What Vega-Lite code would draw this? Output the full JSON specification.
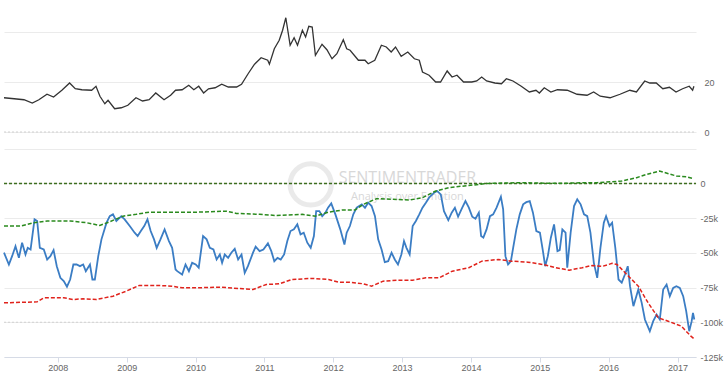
{
  "$schema": "https://vega.github.io/schema/vega-lite/v6.json",
  "background": "white",
  "padding": {"left": 0, "top": 0, "right": 3, "bottom": 0},
  "spacing": 0,
  "bounds": "flush",
  "config": {
    "view": {"stroke": null},
    "axis": {"labelFont": "Liberation Sans", "labelFontSize": 9, "labelColor": "#666666", "gridColor": "#ebebeb", "domain": false, "ticks": false, "title": null},
    "axisX": {"grid": false}
  },
  "datasets": {
    "silver": [
      {"date": "2007-03-22", "v": 13.7}, {"date": "2007-05-15", "v": 13.3}, {"date": "2007-07-06", "v": 12.9}, {"date": "2007-08-19", "v": 11.6},
      {"date": "2007-09-23", "v": 12.9}, {"date": "2007-11-05", "v": 15.1}, {"date": "2007-12-10", "v": 14.0}, {"date": "2008-01-23", "v": 16.7},
      {"date": "2008-03-04", "v": 19.6}, {"date": "2008-04-03", "v": 17.3}, {"date": "2008-05-08", "v": 16.9}, {"date": "2008-06-29", "v": 16.7},
      {"date": "2008-07-22", "v": 18.3}, {"date": "2008-08-12", "v": 14.3}, {"date": "2008-09-07", "v": 11.3}, {"date": "2008-09-24", "v": 12.7},
      {"date": "2008-10-29", "v": 9.3}, {"date": "2008-12-03", "v": 9.7}, {"date": "2009-01-07", "v": 10.7}, {"date": "2009-02-19", "v": 13.7},
      {"date": "2009-03-26", "v": 12.4}, {"date": "2009-04-30", "v": 12.9}, {"date": "2009-06-04", "v": 15.6}, {"date": "2009-07-18", "v": 12.9},
      {"date": "2009-08-22", "v": 14.7}, {"date": "2009-09-17", "v": 16.7}, {"date": "2009-10-22", "v": 16.9}, {"date": "2009-11-26", "v": 18.7},
      {"date": "2009-12-23", "v": 16.9}, {"date": "2010-01-18", "v": 18.3}, {"date": "2010-02-13", "v": 15.6}, {"date": "2010-03-11", "v": 17.3},
      {"date": "2010-04-15", "v": 17.7}, {"date": "2010-05-20", "v": 19.1}, {"date": "2010-06-24", "v": 18.0}, {"date": "2010-08-07", "v": 18.0},
      {"date": "2010-09-02", "v": 19.1}, {"date": "2010-10-07", "v": 23.3}, {"date": "2010-11-10", "v": 27.1}, {"date": "2010-12-15", "v": 29.7},
      {"date": "2011-01-19", "v": 28.7}, {"date": "2011-01-28", "v": 27.1}, {"date": "2011-02-23", "v": 33.3}, {"date": "2011-03-21", "v": 36.7},
      {"date": "2011-04-08", "v": 40.7}, {"date": "2011-04-25", "v": 45.7}, {"date": "2011-05-18", "v": 34.7}, {"date": "2011-06-08", "v": 37.7},
      {"date": "2011-06-26", "v": 34.7}, {"date": "2011-07-22", "v": 40.7}, {"date": "2011-08-08", "v": 38.0}, {"date": "2011-08-25", "v": 42.3},
      {"date": "2011-09-12", "v": 42.0}, {"date": "2011-09-29", "v": 30.7}, {"date": "2011-11-03", "v": 35.1}, {"date": "2011-11-29", "v": 32.9},
      {"date": "2011-12-26", "v": 29.3}, {"date": "2012-01-21", "v": 31.3}, {"date": "2012-02-24", "v": 36.9}, {"date": "2012-03-13", "v": 33.3},
      {"date": "2012-03-31", "v": 32.7}, {"date": "2012-05-14", "v": 28.7}, {"date": "2012-06-18", "v": 28.7}, {"date": "2012-07-05", "v": 27.3},
      {"date": "2012-08-09", "v": 28.7}, {"date": "2012-09-13", "v": 34.7}, {"date": "2012-10-09", "v": 34.0}, {"date": "2012-11-04", "v": 32.0},
      {"date": "2012-11-27", "v": 34.0}, {"date": "2012-12-27", "v": 30.3}, {"date": "2013-01-31", "v": 32.0}, {"date": "2013-03-07", "v": 29.3},
      {"date": "2013-04-02", "v": 28.7}, {"date": "2013-04-19", "v": 24.0}, {"date": "2013-05-24", "v": 22.7}, {"date": "2013-06-28", "v": 20.0},
      {"date": "2013-07-24", "v": 20.0}, {"date": "2013-08-28", "v": 24.4}, {"date": "2013-09-23", "v": 22.0}, {"date": "2013-10-19", "v": 22.7},
      {"date": "2013-11-23", "v": 20.0}, {"date": "2014-01-06", "v": 20.0}, {"date": "2014-02-01", "v": 20.4}, {"date": "2014-02-27", "v": 22.0},
      {"date": "2014-03-25", "v": 20.4}, {"date": "2014-05-08", "v": 19.6}, {"date": "2014-06-12", "v": 19.3}, {"date": "2014-07-08", "v": 21.3},
      {"date": "2014-08-12", "v": 20.4}, {"date": "2014-09-25", "v": 18.3}, {"date": "2014-11-07", "v": 16.0}, {"date": "2014-12-12", "v": 16.7},
      {"date": "2014-12-30", "v": 15.6}, {"date": "2015-01-25", "v": 17.7}, {"date": "2015-03-01", "v": 16.0}, {"date": "2015-04-05", "v": 16.9},
      {"date": "2015-05-27", "v": 16.7}, {"date": "2015-07-18", "v": 15.1}, {"date": "2015-09-09", "v": 14.7}, {"date": "2015-10-14", "v": 16.0},
      {"date": "2015-11-18", "v": 14.3}, {"date": "2016-01-09", "v": 13.7}, {"date": "2016-03-02", "v": 15.1}, {"date": "2016-04-23", "v": 16.7},
      {"date": "2016-05-28", "v": 16.0}, {"date": "2016-07-11", "v": 20.4}, {"date": "2016-08-07", "v": 19.6}, {"date": "2016-09-10", "v": 19.6},
      {"date": "2016-10-15", "v": 17.3}, {"date": "2016-11-19", "v": 17.9}, {"date": "2016-12-24", "v": 16.0}, {"date": "2017-01-28", "v": 17.3},
      {"date": "2017-03-04", "v": 18.3}, {"date": "2017-03-22", "v": 16.7}, {"date": "2017-03-29", "v": 18.3}
    ],
    "cot": [
      {"date": "2007-03-22", "v": -49900}, {"date": "2007-04-17", "v": -58400}, {"date": "2007-05-04", "v": -52400}, {"date": "2007-05-22", "v": -45200},
      {"date": "2007-06-09", "v": -53600}, {"date": "2007-06-26", "v": -42700}, {"date": "2007-07-14", "v": -51200}, {"date": "2007-07-26", "v": -46400},
      {"date": "2007-08-10", "v": -47600}, {"date": "2007-08-31", "v": -25900}, {"date": "2007-09-14", "v": -27100}, {"date": "2007-09-28", "v": -46400},
      {"date": "2007-10-19", "v": -47600}, {"date": "2007-11-06", "v": -54800}, {"date": "2007-11-23", "v": -52400}, {"date": "2007-12-10", "v": -48100},
      {"date": "2007-12-27", "v": -59600}, {"date": "2008-01-15", "v": -68000}, {"date": "2008-02-02", "v": -70400}, {"date": "2008-02-19", "v": -74400},
      {"date": "2008-03-07", "v": -69200}, {"date": "2008-03-24", "v": -58400}, {"date": "2008-04-10", "v": -58400}, {"date": "2008-04-28", "v": -59600},
      {"date": "2008-05-15", "v": -58400}, {"date": "2008-05-29", "v": -63200}, {"date": "2008-06-20", "v": -58400}, {"date": "2008-07-03", "v": -69200},
      {"date": "2008-07-16", "v": -69200}, {"date": "2008-08-03", "v": -52400}, {"date": "2008-08-20", "v": -40300}, {"date": "2008-09-16", "v": -28300},
      {"date": "2008-10-03", "v": -23600}, {"date": "2008-10-20", "v": -22300}, {"date": "2008-11-07", "v": -27100}, {"date": "2008-12-03", "v": -23600},
      {"date": "2008-12-21", "v": -25900}, {"date": "2009-01-17", "v": -30700}, {"date": "2009-02-12", "v": -35500}, {"date": "2009-02-28", "v": -37900},
      {"date": "2009-03-17", "v": -34300}, {"date": "2009-04-04", "v": -30700}, {"date": "2009-04-21", "v": -25900}, {"date": "2009-05-08", "v": -34300},
      {"date": "2009-05-26", "v": -40300}, {"date": "2009-06-09", "v": -46400}, {"date": "2009-06-29", "v": -40300}, {"date": "2009-07-21", "v": -33100},
      {"date": "2009-08-13", "v": -41500}, {"date": "2009-08-30", "v": -46400}, {"date": "2009-09-17", "v": -62000}, {"date": "2009-09-26", "v": -63200},
      {"date": "2009-10-22", "v": -65600}, {"date": "2009-11-09", "v": -58400}, {"date": "2009-11-27", "v": -63200}, {"date": "2009-12-14", "v": -57200},
      {"date": "2010-01-02", "v": -58400}, {"date": "2010-01-18", "v": -60700}, {"date": "2010-02-10", "v": -37900}, {"date": "2010-03-01", "v": -40300},
      {"date": "2010-03-18", "v": -46400}, {"date": "2010-04-06", "v": -47600}, {"date": "2010-04-23", "v": -54800}, {"date": "2010-05-10", "v": -51200},
      {"date": "2010-05-22", "v": -57200}, {"date": "2010-06-05", "v": -51200}, {"date": "2010-06-23", "v": -53600}, {"date": "2010-07-10", "v": -49900},
      {"date": "2010-07-28", "v": -47100}, {"date": "2010-08-15", "v": -54800}, {"date": "2010-09-02", "v": -51200}, {"date": "2010-09-19", "v": -64400},
      {"date": "2010-10-06", "v": -59600}, {"date": "2010-11-02", "v": -49900}, {"date": "2010-11-16", "v": -45600}, {"date": "2010-12-07", "v": -48800},
      {"date": "2010-12-27", "v": -47600}, {"date": "2011-01-20", "v": -43200}, {"date": "2011-02-07", "v": -48800}, {"date": "2011-02-23", "v": -56000},
      {"date": "2011-03-12", "v": -53600}, {"date": "2011-03-29", "v": -54800}, {"date": "2011-04-16", "v": -51200}, {"date": "2011-05-03", "v": -41500},
      {"date": "2011-05-20", "v": -34300}, {"date": "2011-06-07", "v": -33100}, {"date": "2011-06-25", "v": -29500}, {"date": "2011-07-12", "v": -36700},
      {"date": "2011-07-29", "v": -35500}, {"date": "2011-08-17", "v": -42700}, {"date": "2011-09-04", "v": -46400}, {"date": "2011-09-21", "v": -37900},
      {"date": "2011-10-03", "v": -20000}, {"date": "2011-10-20", "v": -20000}, {"date": "2011-11-04", "v": -23600}, {"date": "2011-11-21", "v": -21100},
      {"date": "2011-12-05", "v": -17500}, {"date": "2011-12-22", "v": -14400}, {"date": "2012-01-13", "v": -22300}, {"date": "2012-02-08", "v": -33100},
      {"date": "2012-03-01", "v": -44000}, {"date": "2012-03-13", "v": -35500}, {"date": "2012-03-30", "v": -30700}, {"date": "2012-04-17", "v": -22300},
      {"date": "2012-05-05", "v": -17500}, {"date": "2012-06-01", "v": -15100}, {"date": "2012-06-18", "v": -17500}, {"date": "2012-07-05", "v": -13900},
      {"date": "2012-07-23", "v": -16300}, {"date": "2012-08-10", "v": -23600}, {"date": "2012-08-27", "v": -40300}, {"date": "2012-09-14", "v": -47600},
      {"date": "2012-10-01", "v": -56700}, {"date": "2012-10-19", "v": -56000}, {"date": "2012-11-06", "v": -49900}, {"date": "2012-11-23", "v": -54800},
      {"date": "2012-12-10", "v": -58400}, {"date": "2012-12-28", "v": -51200}, {"date": "2013-01-11", "v": -41500}, {"date": "2013-01-24", "v": -46400},
      {"date": "2013-02-10", "v": -51200}, {"date": "2013-02-26", "v": -30700}, {"date": "2013-03-15", "v": -27100}, {"date": "2013-04-02", "v": -22300},
      {"date": "2013-04-19", "v": -17500}, {"date": "2013-05-07", "v": -13900}, {"date": "2013-05-24", "v": -10300}, {"date": "2013-06-20", "v": -6700},
      {"date": "2013-07-06", "v": -5500}, {"date": "2013-07-25", "v": -7900}, {"date": "2013-08-11", "v": -20000}, {"date": "2013-09-03", "v": -26400},
      {"date": "2013-09-21", "v": -21100}, {"date": "2013-10-08", "v": -17500}, {"date": "2013-10-25", "v": -24000}, {"date": "2013-11-16", "v": -17500},
      {"date": "2013-12-03", "v": -12700}, {"date": "2013-12-21", "v": -17500}, {"date": "2014-01-08", "v": -24000}, {"date": "2014-01-25", "v": -25500},
      {"date": "2014-02-12", "v": -21100}, {"date": "2014-02-24", "v": -37900}, {"date": "2014-03-08", "v": -39100}, {"date": "2014-03-25", "v": -33100},
      {"date": "2014-04-12", "v": -23600}, {"date": "2014-04-29", "v": -22300}, {"date": "2014-05-17", "v": -17500}, {"date": "2014-06-09", "v": -9600},
      {"date": "2014-06-21", "v": -18700}, {"date": "2014-07-03", "v": -52400}, {"date": "2014-07-17", "v": -58400}, {"date": "2014-08-01", "v": -56000},
      {"date": "2014-08-13", "v": -46400}, {"date": "2014-08-30", "v": -33100}, {"date": "2014-09-17", "v": -22300}, {"date": "2014-10-05", "v": -15100},
      {"date": "2014-10-22", "v": -13500}, {"date": "2014-11-09", "v": -12700}, {"date": "2014-11-26", "v": -21100}, {"date": "2014-12-14", "v": -34300},
      {"date": "2015-01-02", "v": -35500}, {"date": "2015-01-18", "v": -48800}, {"date": "2015-01-30", "v": -59600}, {"date": "2015-02-13", "v": -52400},
      {"date": "2015-03-01", "v": -39100}, {"date": "2015-03-18", "v": -29500}, {"date": "2015-04-05", "v": -48800}, {"date": "2015-04-17", "v": -48000},
      {"date": "2015-05-01", "v": -33100}, {"date": "2015-05-18", "v": -35500}, {"date": "2015-05-27", "v": -60700}, {"date": "2015-06-14", "v": -35500},
      {"date": "2015-07-02", "v": -16300}, {"date": "2015-07-19", "v": -11500}, {"date": "2015-08-06", "v": -15100}, {"date": "2015-08-24", "v": -22300},
      {"date": "2015-09-10", "v": -23600}, {"date": "2015-09-27", "v": -35500}, {"date": "2015-10-15", "v": -57200}, {"date": "2015-11-02", "v": -68000},
      {"date": "2015-11-19", "v": -46400}, {"date": "2015-12-07", "v": -28300}, {"date": "2015-12-19", "v": -23600}, {"date": "2016-01-06", "v": -30700},
      {"date": "2016-01-20", "v": -28300}, {"date": "2016-02-06", "v": -46400}, {"date": "2016-02-23", "v": -69200}, {"date": "2016-03-11", "v": -71500},
      {"date": "2016-03-28", "v": -65600}, {"date": "2016-04-12", "v": -59600}, {"date": "2016-04-24", "v": -74000}, {"date": "2016-05-12", "v": -88400},
      {"date": "2016-06-07", "v": -76400}, {"date": "2016-06-25", "v": -86000}, {"date": "2016-07-12", "v": -98000}, {"date": "2016-08-07", "v": -106400},
      {"date": "2016-08-25", "v": -99200}, {"date": "2016-09-12", "v": -94400}, {"date": "2016-09-29", "v": -98000}, {"date": "2016-10-17", "v": -76400},
      {"date": "2016-11-04", "v": -72800}, {"date": "2016-11-21", "v": -81200}, {"date": "2016-12-09", "v": -75200}, {"date": "2016-12-26", "v": -74000},
      {"date": "2017-01-13", "v": -75200}, {"date": "2017-01-31", "v": -81200}, {"date": "2017-02-16", "v": -92000}, {"date": "2017-03-04", "v": -106400},
      {"date": "2017-03-17", "v": -99200}, {"date": "2017-03-24", "v": -93200}, {"date": "2017-03-31", "v": -98000}
    ],
    "upper": [
      {"date": "2007-03-22", "v": -30700}, {"date": "2007-06-18", "v": -30700}, {"date": "2007-08-27", "v": -28300}, {"date": "2007-11-06", "v": -27100},
      {"date": "2008-03-07", "v": -27100}, {"date": "2008-06-02", "v": -28300}, {"date": "2008-08-11", "v": -30300}, {"date": "2008-10-03", "v": -27600},
      {"date": "2008-12-12", "v": -23600}, {"date": "2009-02-20", "v": -22300}, {"date": "2009-04-30", "v": -20700}, {"date": "2009-07-09", "v": -20700},
      {"date": "2009-10-22", "v": -20700}, {"date": "2010-01-10", "v": -20700}, {"date": "2010-06-14", "v": -20000}, {"date": "2010-08-06", "v": -21600},
      {"date": "2010-12-07", "v": -22300}, {"date": "2011-03-03", "v": -23100}, {"date": "2011-07-21", "v": -22300}, {"date": "2011-09-29", "v": -23600},
      {"date": "2011-12-08", "v": -20700}, {"date": "2012-02-17", "v": -19200}, {"date": "2012-04-26", "v": -19200}, {"date": "2012-06-09", "v": -15100},
      {"date": "2012-08-18", "v": -11000}, {"date": "2012-11-14", "v": -11500}, {"date": "2013-02-10", "v": -12000}, {"date": "2013-04-19", "v": -10300},
      {"date": "2013-06-28", "v": -5500}, {"date": "2013-09-07", "v": -3000}, {"date": "2013-12-21", "v": -1500}, {"date": "2014-04-04", "v": 0},
      {"date": "2014-09-09", "v": 500}, {"date": "2015-04-05", "v": 0}, {"date": "2015-09-10", "v": 500}, {"date": "2015-11-02", "v": 500},
      {"date": "2016-03-11", "v": 1700}, {"date": "2016-05-29", "v": 4100}, {"date": "2016-07-21", "v": 6500}, {"date": "2016-09-27", "v": 8900},
      {"date": "2016-12-26", "v": 5300}, {"date": "2017-02-16", "v": 4800}, {"date": "2017-03-29", "v": 3400}
    ],
    "lower": [
      {"date": "2007-03-22", "v": -86000}, {"date": "2007-09-14", "v": -85300}, {"date": "2007-10-19", "v": -82400}, {"date": "2008-02-02", "v": -82400},
      {"date": "2008-03-24", "v": -83600}, {"date": "2008-05-15", "v": -83100}, {"date": "2008-07-24", "v": -83600}, {"date": "2008-10-20", "v": -81200},
      {"date": "2008-12-29", "v": -77600}, {"date": "2009-03-08", "v": -73500}, {"date": "2009-06-21", "v": -73500}, {"date": "2009-08-30", "v": -74000},
      {"date": "2009-10-22", "v": -75200}, {"date": "2010-01-10", "v": -75200}, {"date": "2010-05-10", "v": -74700}, {"date": "2010-09-10", "v": -75900},
      {"date": "2010-11-02", "v": -76400}, {"date": "2011-01-11", "v": -72800}, {"date": "2011-03-20", "v": -72300}, {"date": "2011-05-29", "v": -69200},
      {"date": "2011-09-12", "v": -68400}, {"date": "2011-12-08", "v": -69200}, {"date": "2012-01-30", "v": -71100}, {"date": "2012-03-30", "v": -71100},
      {"date": "2012-06-09", "v": -72300}, {"date": "2012-07-23", "v": -74000}, {"date": "2012-09-22", "v": -70400}, {"date": "2012-12-02", "v": -69700},
      {"date": "2013-02-26", "v": -69700}, {"date": "2013-05-07", "v": -68000}, {"date": "2013-07-16", "v": -68000}, {"date": "2013-09-24", "v": -63200},
      {"date": "2013-12-21", "v": -60700}, {"date": "2014-02-28", "v": -56000}, {"date": "2014-05-25", "v": -54800}, {"date": "2014-08-04", "v": -56000},
      {"date": "2014-10-30", "v": -56700}, {"date": "2015-01-18", "v": -58400}, {"date": "2015-03-27", "v": -60700}, {"date": "2015-06-06", "v": -62500},
      {"date": "2015-08-14", "v": -60700}, {"date": "2015-10-06", "v": -59100}, {"date": "2015-11-28", "v": -59800}, {"date": "2016-01-20", "v": -57600},
      {"date": "2016-02-15", "v": -58400}, {"date": "2016-04-16", "v": -66800}, {"date": "2016-06-07", "v": -74000}, {"date": "2016-07-29", "v": -86000},
      {"date": "2016-09-21", "v": -96800}, {"date": "2016-11-12", "v": -99200}, {"date": "2017-01-21", "v": -102800}, {"date": "2017-03-13", "v": -110000},
      {"date": "2017-03-31", "v": -112000}
    ],
    "zeroTop": [{"date": "2007-03-22", "v": 0}, {"date": "2017-04-09", "v": 0}],
    "zeroBottom": [{"date": "2007-03-22", "v": 0}, {"date": "2017-04-09", "v": 0}],
    "hundred": [{"date": "2007-03-22", "v": -100000}, {"date": "2017-04-09", "v": -100000}],
    "mark": [
      {"date": "2013-01-29", "v": 3600, "t": "SENTIMENTRADER", "s": 16},
      {"date": "2013-01-29", "v": -9600, "t": "Analysis over Emotion", "s": 11}
    ],
    "logo": [{"date": "2011-09-04", "v": -700}]
  },
  "vconcat": [
    {
      "width": 692,
      "height": 132,
      "encoding": {
        "x": {"field": "date", "type": "temporal", "scale": {"domain": [{"year": 2007, "month": 3, "date": 22}, {"year": 2017, "month": 4, "date": 9}]}, "axis": null},
        "y": {"field": "v", "type": "quantitative", "scale": {"domain": [0, 52.8], "nice": false, "zero": false},
              "axis": {"orient": "right", "values": [0, 20, 40], "labelExpr": "datum.value == 40 ? '' : datum.label", "labelPadding": 8}}
      },
      "layer": [
        {
          "data": {"name": "zeroTop"},
          "mark": {"type": "line", "color": "#d0d0d0", "strokeDash": [2, 2], "strokeWidth": 1}
        },
        {
          "data": {"name": "silver"},
          "mark": {"type": "line", "color": "#333333", "strokeWidth": 1.3}
        }
      ]
    },
    {
      "width": 692,
      "height": 225,
      "encoding": {
        "x": {"field": "date", "type": "temporal", "scale": {"domain": [{"year": 2007, "month": 3, "date": 22}, {"year": 2017, "month": 4, "date": 9}]},
              "axis": {"orient": "bottom", "format": "%Y", "tickCount": {"interval": "year", "step": 1}, "labelFlush": false, "domain": true, "domainColor": "#d6dbe6", "ticks": true, "tickColor": "#d6dbe6", "tickSize": 5, "labelPadding": 1}},
        "y": {"field": "v", "type": "quantitative", "scale": {"domain": [-125000, 37000], "nice": false},
              "axis": {"orient": "right", "values": [25000, 0, -25000, -50000, -75000, -100000, -125000], "labelExpr": "datum.value == 25000 ? '' : (datum.value == 0 ? '0' : (datum.value / 1000) + 'k')", "labelPadding": 4}}
      },
      "layer": [
        {
          "data": {"name": "logo"},
          "mark": {"type": "point", "shape": "circle", "size": 1700, "filled": false, "stroke": "#e2e2e2", "strokeWidth": 5}
        },
        {
          "data": {"name": "mark"},
          "mark": {"type": "text", "color": "#d8d8d8", "font": "Open Sans", "align": "center", "baseline": "middle"},
          "encoding": {
            "text": {"field": "t"},
            "size": {"field": "s", "type": "quantitative", "scale": null, "legend": null}
          }
        },
        {
          "data": {"name": "hundred"},
          "mark": {"type": "line", "color": "#d0d0d0", "strokeDash": [2, 2], "strokeWidth": 1}
        },
        {
          "data": {"name": "cot"},
          "mark": {"type": "line", "color": "#3b7dc4", "strokeWidth": 1.8}
        },
        {
          "data": {"name": "zeroBottom"},
          "mark": {"type": "line", "color": "#3d6e1f", "strokeDash": [3, 2], "strokeWidth": 1.5}
        },
        {
          "data": {"name": "upper"},
          "mark": {"type": "line", "color": "#2a8a1e", "strokeWidth": 1.5, "strokeDash": [4, 2]}
        },
        {
          "data": {"name": "lower"},
          "mark": {"type": "line", "color": "#e0231c", "strokeWidth": 1.5, "strokeDash": [4, 2]}
        }
      ]
    }
  ]
}
